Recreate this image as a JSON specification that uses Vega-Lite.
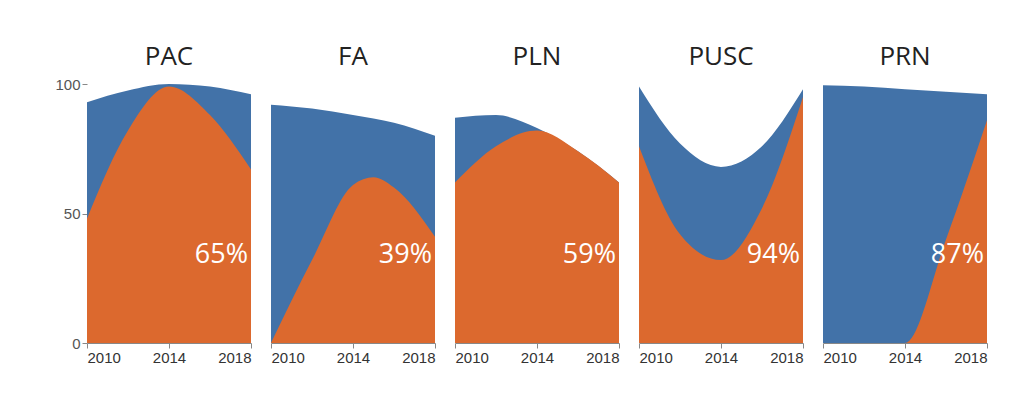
{
  "$schema": "https://vega.github.io/schema/vega-lite/v6.json",
  "background": "white",
  "padding": {"left": 54, "top": 44, "right": 10, "bottom": 5},
  "data": {"values": [
    {"party":"PAC","year":2010,"s":"total","v":93,"lab":"65%"},
    {"party":"PAC","year":2012,"s":"total","v":97.5,"lab":"65%"},
    {"party":"PAC","year":2014,"s":"total","v":100,"lab":"65%"},
    {"party":"PAC","year":2016,"s":"total","v":99,"lab":"65%"},
    {"party":"PAC","year":2018,"s":"total","v":96,"lab":"65%"},
    {"party":"PAC","year":2010,"s":"part","v":48,"lab":"65%"},
    {"party":"PAC","year":2012,"s":"part","v":82,"lab":"65%"},
    {"party":"PAC","year":2014,"s":"part","v":99,"lab":"65%"},
    {"party":"PAC","year":2016,"s":"part","v":88,"lab":"65%"},
    {"party":"PAC","year":2018,"s":"part","v":67,"lab":"65%"},
    {"party":"FA","year":2010,"s":"total","v":92,"lab":"39%"},
    {"party":"FA","year":2012,"s":"total","v":90.5,"lab":"39%"},
    {"party":"FA","year":2014,"s":"total","v":88,"lab":"39%"},
    {"party":"FA","year":2016,"s":"total","v":85,"lab":"39%"},
    {"party":"FA","year":2018,"s":"total","v":80,"lab":"39%"},
    {"party":"FA","year":2010,"s":"part","v":0,"lab":"39%"},
    {"party":"FA","year":2012,"s":"part","v":32,"lab":"39%"},
    {"party":"FA","year":2014,"s":"part","v":61,"lab":"39%"},
    {"party":"FA","year":2015,"s":"part","v":64,"lab":"39%"},
    {"party":"FA","year":2016,"s":"part","v":60,"lab":"39%"},
    {"party":"FA","year":2018,"s":"part","v":41,"lab":"39%"},
    {"party":"PLN","year":2010,"s":"total","v":87,"lab":"59%"},
    {"party":"PLN","year":2012,"s":"total","v":88,"lab":"59%"},
    {"party":"PLN","year":2014,"s":"total","v":83,"lab":"59%"},
    {"party":"PLN","year":2016,"s":"total","v":74,"lab":"59%"},
    {"party":"PLN","year":2018,"s":"total","v":62,"lab":"59%"},
    {"party":"PLN","year":2010,"s":"part","v":62,"lab":"59%"},
    {"party":"PLN","year":2012,"s":"part","v":76,"lab":"59%"},
    {"party":"PLN","year":2014,"s":"part","v":82,"lab":"59%"},
    {"party":"PLN","year":2016,"s":"part","v":74,"lab":"59%"},
    {"party":"PLN","year":2018,"s":"part","v":62,"lab":"59%"},
    {"party":"PUSC","year":2010,"s":"total","v":99,"lab":"94%"},
    {"party":"PUSC","year":2012,"s":"total","v":77,"lab":"94%"},
    {"party":"PUSC","year":2014,"s":"total","v":68,"lab":"94%"},
    {"party":"PUSC","year":2016,"s":"total","v":76,"lab":"94%"},
    {"party":"PUSC","year":2018,"s":"total","v":98,"lab":"94%"},
    {"party":"PUSC","year":2010,"s":"part","v":76,"lab":"94%"},
    {"party":"PUSC","year":2012,"s":"part","v":42,"lab":"94%"},
    {"party":"PUSC","year":2014,"s":"part","v":32,"lab":"94%"},
    {"party":"PUSC","year":2016,"s":"part","v":52,"lab":"94%"},
    {"party":"PUSC","year":2018,"s":"part","v":95,"lab":"94%"},
    {"party":"PRN","year":2010,"s":"total","v":99.5,"lab":"87%"},
    {"party":"PRN","year":2012,"s":"total","v":99,"lab":"87%"},
    {"party":"PRN","year":2014,"s":"total","v":98,"lab":"87%"},
    {"party":"PRN","year":2016,"s":"total","v":97,"lab":"87%"},
    {"party":"PRN","year":2018,"s":"total","v":96,"lab":"87%"},
    {"party":"PRN","year":2010,"s":"part","v":0,"lab":"87%"},
    {"party":"PRN","year":2012,"s":"part","v":0,"lab":"87%"},
    {"party":"PRN","year":2014,"s":"part","v":0,"lab":"87%"},
    {"party":"PRN","year":2016,"s":"part","v":40,"lab":"87%"},
    {"party":"PRN","year":2018,"s":"part","v":86,"lab":"87%"}
  ]},
  "facet": {
    "column": {
      "field": "party", "type": "nominal",
      "sort": ["PAC","FA","PLN","PUSC","PRN"],
      "header": {"title": null, "labelFontSize": 26, "labelColor": "#222", "labelFont": "Open Sans", "labelPadding": 14}
    }
  },
  "spacing": 20,
  "spec": {
    "width": 164,
    "height": 259,
    "layer": [
      {
        "transform": [{"filter": "datum.s == 'total'"}],
        "mark": {"type": "area", "interpolate": "monotone", "color": "#4272a8"},
        "encoding": {
          "x": {"field": "year", "type": "quantitative", "scale": {"domain": [2010, 2018], "nice": false},
            "axis": {"values": [2010, 2014, 2018], "format": "d", "title": null, "labelFlush": true, "grid": false,
              "labelFontSize": 15, "labelColor": "#333", "domainColor": "#888", "tickColor": "#888"}},
          "y": {"field": "v", "type": "quantitative", "scale": {"domain": [0, 100]},
            "axis": {"values": [0, 50, 100], "title": null, "grid": false, "domain": false,
              "labelFontSize": 15, "labelColor": "#555", "tickColor": "#888"}}
        }
      },
      {
        "transform": [{"filter": "datum.s == 'part'"}],
        "mark": {"type": "area", "interpolate": "monotone", "color": "#dc692e"},
        "encoding": {
          "x": {"field": "year", "type": "quantitative"},
          "y": {"field": "v", "type": "quantitative"}
        }
      },
      {
        "transform": [{"filter": "datum.s == 'part' && datum.year == 2018"}],
        "mark": {"type": "text", "align": "right", "baseline": "middle", "fontSize": 27, "color": "white", "font": "Open Sans", "dx": -3},
        "encoding": {
          "x": {"field": "year", "type": "quantitative"},
          "y": {"datum": 34},
          "text": {"field": "lab"}
        }
      }
    ]
  },
  "config": {"view": {"stroke": null}}
}
